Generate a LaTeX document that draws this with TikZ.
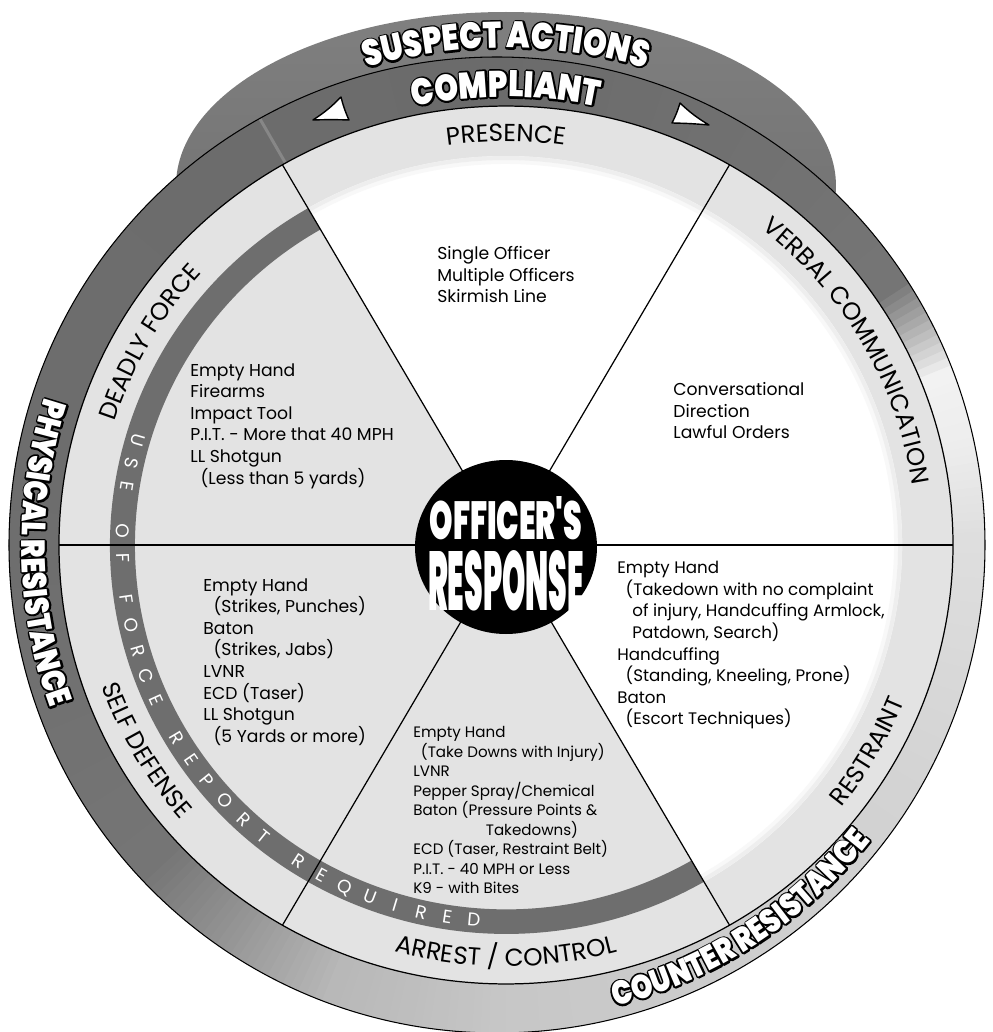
\documentclass[tikz,border=0pt]{standalone}
\usepackage{fontspec}
\setmainfont{Poppins}
\newfontfamily\heavy{Poppins Black}[FakeStretch=0.82]
\newfontfamily\heavyc{Poppins Black}
\usetikzlibrary{decorations.text}

\definecolor{ringgray}{gray}{0.89}
\definecolor{bandgray}{gray}{0.43}

\newcommand\ringfont{\fontsize{14}{14}\selectfont}
% black rim under the letters (text render mode 1 = stroke only)
\newcommand\rimon{\special{pdf:literal direct 0 G 1 Tr 2.1 w 1 j}}
\newcommand\rimoff{\special{pdf:literal direct 0 Tr 0 j}}

\newcommand\heavyarc[4]{%
  \path[decorate, decoration={text along path, text align=center,
      text={|\fontsize{#1}{#1}\heavy\color{black}\rimon|#3}}] #2;
  \node[inner sep=0pt] (#4) at (0,0) {\rimoff};
  \path[decorate, decoration={text along path, text align=center,
      text={|\fontsize{#1}{#1}\heavy\color{white}|#3}}] #2;
}

\tikzset{
  block/.style={align=left, anchor=north west, inner sep=0pt, font=\fontsize{9.8}{12.3}\selectfont},
  ringlabel/.style={decorate, decoration={text along path, text align=center}},
  sector/.style={line width=0.7pt},
  useletter/.style={text=white, inner sep=0pt, text height=1.3ex, text depth=0pt, font=\fontsize{10.5}{10.5}\selectfont},
  pointer/.style={fill=white, draw=black, line width=0.8pt, line join=round},
}

\begin{document}
\begin{tikzpicture}[x=0.02cm, y=0.02cm]
\useasboundingbox (-506,-487) rectangle (486,545);
\fill[white] (-506,-487) rectangle (486,545);

% suspect actions band behind the wheel
\shade[top color=black!50, bottom color=black!58] (0,359) ellipse [x radius=330, y radius=174];

% outer ring, grey levels round the wheel
\begin{scope}
  \clip (-9,0) circle (488);
  \foreach \aa/\ga/\ab/\gb in {0/.87/12/.93, 12/.93/21/.95, 21/.95/33/.46, 33/.46/90/.42,
      90/.42/180/.43, 180/.43/222/.46, 222/.46/248/.72, 248/.72/270/.78, 270/.78/330/.83, 330/.83/360/.87}
    \foreach \a in {\aa,...,\ab}{
      \pgfmathsetmacro\g{\ga+(\gb-\ga)*(\a-\aa)/(\ab-\aa)}
      \pgfmathsetmacro\k{100-100*\g}
      \fill[black!\k] (0,0) -- (\a:600) -- ({\a+1.5}:600) -- cycle;
    }
  \draw[black!47, line width=0.06cm] (120:440) -- (120:500);
\end{scope}
\draw[line width=0.6pt] (-9,0) circle (488);

\begin{scope}[yscale=0.982]
  \fill[ringgray] (0,0) circle (447);
  \fill[white] (0,0) -- (-60:396) arc (-60:120:396) -- cycle;
  \draw[ringgray!25, line width=0.08cm] (-60:390) arc (-60:120:390);
  \draw[ringgray!60, line width=0.08cm] (-60:394) arc (-60:120:394);
  % use of force band
  \fill[bandgray] (120:396) arc (120:300:396) -- (300:371) arc (300:120:371) -- cycle;
  \foreach \a in {0,60,...,300}
    \draw[sector] (0,0) -- (\a:447);
  \draw[sector] (0,0) circle (447);

  \path[ringlabel, decoration={text={|\ringfont|PRESENCE}}] (115:411) arc (115:65:411);
  \path[ringlabel, decoration={text={|\ringfont|VERBAL COMMUNICATION}}] (62:411) arc (62:-2:411);
  \path[ringlabel, decoration={text={|\ringfont|RESTRAINT}}] (298:429) arc (298:362:429);
  \path[ringlabel, decoration={text={|\ringfont|ARREST / CONTROL}}] (238:429) arc (238:302:429);
  \path[ringlabel, decoration={text={|\ringfont|SELF DEFENSE}}] (178:429) arc (178:242:429);
  \path[ringlabel, decoration={text={|\ringfont|DEADLY FORCE}}] (182:411) arc (182:118:411);

  \foreach \a/\c [count=\i] in {163.8/U, 167.4/S, 171.0/E, 177.9/O, 181.9/F, 188.3/F, 192.3/O,
      196.3/R, 200.3/C, 204.3/E, 210.8/R, 214.8/E, 218.8/P, 222.8/O, 226.8/R, 230.8/T,
      237.2/R, 241.2/E, 245.2/Q, 249.2/U, 253.2/I, 257.2/R, 261.2/E, 265.2/D}
    \node[useletter, rotate=\a+90] (uf\i) at (\a:383.5) {\c};
\end{scope}

% centre
\fill[black] (0,-2) ellipse [x radius=91, y radius=87];
\node[text=white, inner sep=0pt] (officer) at (0,26.5) {\resizebox{3.06cm}{0.86cm}{\heavyc OFFICER'S}};
\node[text=white, inner sep=0pt] (response) at (0,-36) {\resizebox{3.12cm}{1.2cm}{\heavyc RESPONSE}};

% what the officer does
\node[block] (presence) at (-69,299) {Single Officer\\Multiple Officers\\Skirmish Line};
\node[block] (verbal) at (167,163) {Conversational\\Direction\\Lawful Orders};
\node[block] (deadly) at (-316,182) {Empty Hand\\Firearms\\Impact Tool\\P.I.T. - More that 40 MPH\\LL Shotgun\\\hspace*{0.6em}(Less than 5 yards)};
\node[block] (selfdef) at (-303,-33) {Empty Hand\\\hspace*{0.6em}(Strikes, Punches)\\Baton\\\hspace*{0.6em}(Strikes, Jabs)\\LVNR\\ECD (Taser)\\LL Shotgun\\\hspace*{0.6em}(5 Yards or more)};
\node[block, font=\fontsize{9.5}{12.3}\selectfont] (restraint) at (111,-16) {Empty Hand\\\hspace*{0.5em}(Takedown with no complaint\\\hspace*{0.9em}of injury, Handcuffing Armlock,\\\hspace*{0.9em}Patdown, Search)\\Handcuffing\\\hspace*{0.5em}(Standing, Kneeling, Prone)\\Baton\\\hspace*{0.5em}(Escort Techniques)};
\node[block, font=\fontsize{8.6}{11.1}\selectfont] (arrest) at (-93,-181) {Empty Hand\\\hspace*{0.5em}(Take Downs with Injury)\\LVNR\\Pepper Spray/Chemical\\Baton (Pressure Points \&\\\hspace*{1.45cm}Takedowns)\\ECD (Taser, Restraint Belt)\\P.I.T. - 40 MPH or Less\\K9 - with Bites};

% suspect side
\heavyarc{21}{(110:497) arc (110:70:497)}{SUSPECT ACTIONS}{suspect}
\heavyarc{21}{(112:448) arc (112:68:448)}{COMPLIANT}{compliant}
\heavyarc{19}{([shift={(-9,0)}]151:475.5) arc (151:211:475.5)}{PHYSICAL RESISTANCE}{physical}
\heavyarc{19}{([shift={(-9,0)}]273:476.5) arc (273:333:476.5)}{COUNTER RESISTANCE}{counter}

% pointers in the compliant band
\filldraw[pointer] (-165,448) to[bend left=6] (-193,425) to[bend left=2] (-157,425) to[bend left=5] cycle;
\filldraw[pointer] (174,442) to[bend right=6] (203,420) to[bend right=2] (166,422) to[bend right=5] cycle;
\end{tikzpicture}
\end{document}
